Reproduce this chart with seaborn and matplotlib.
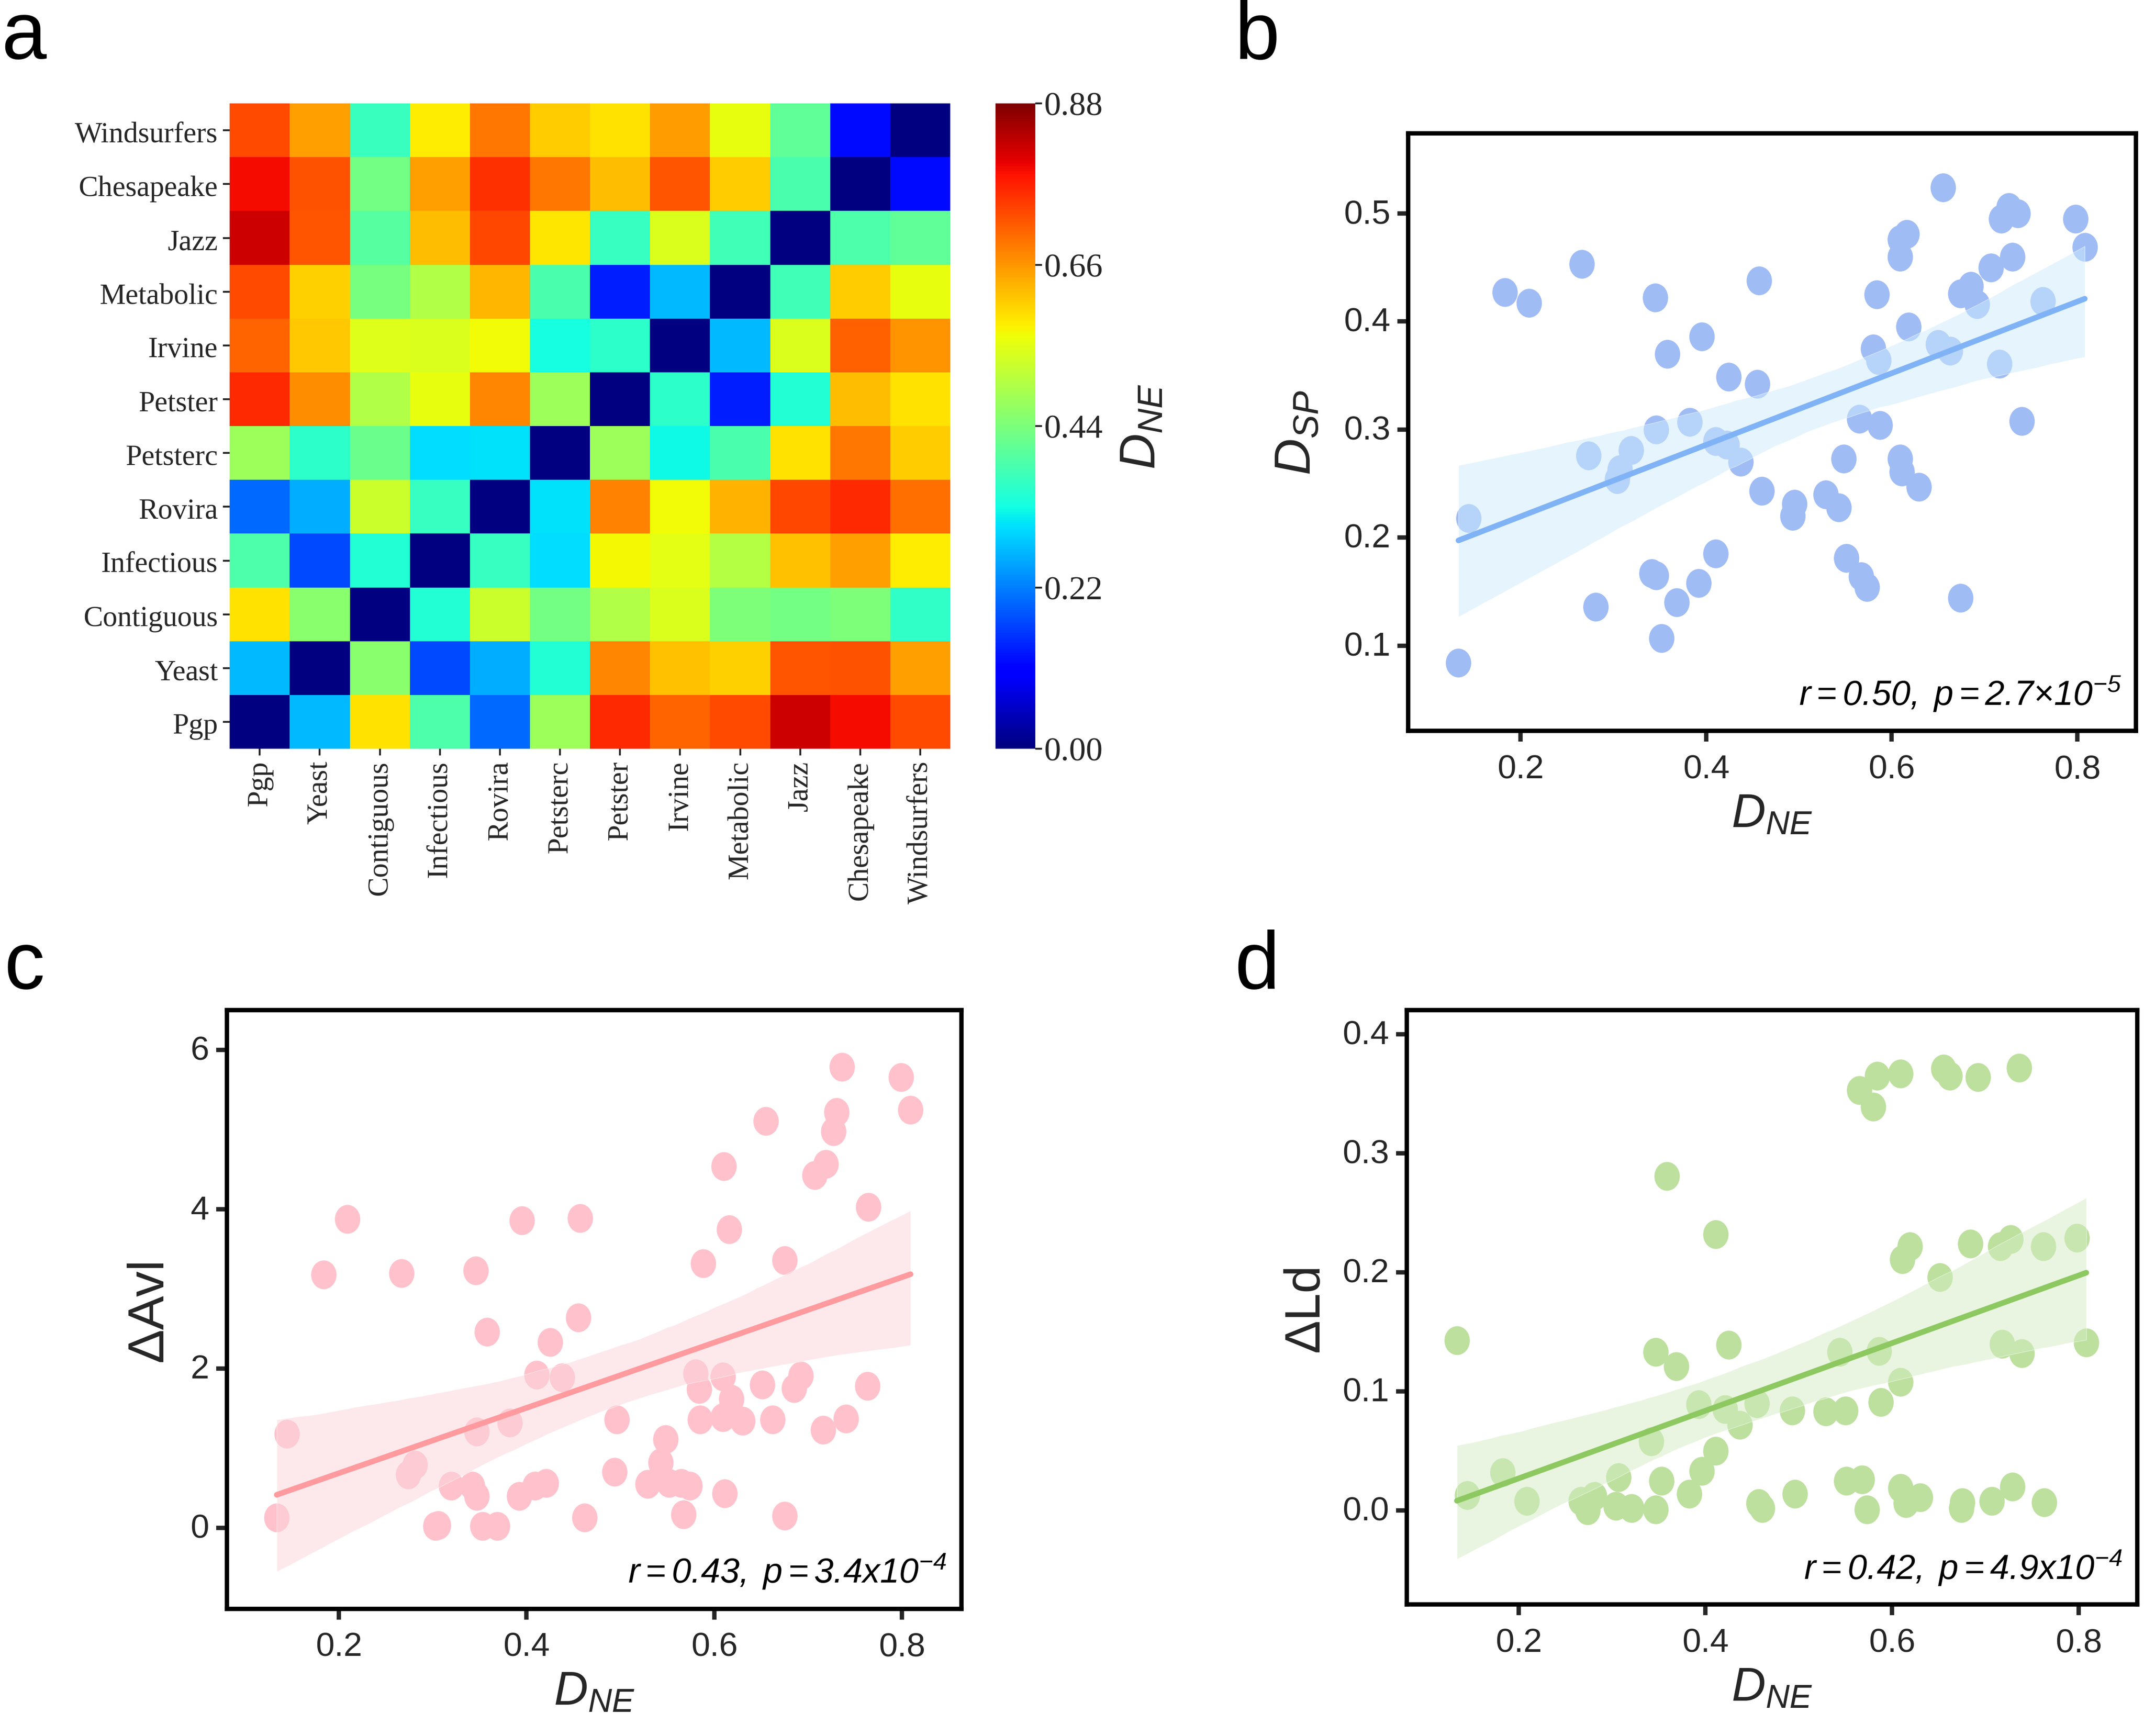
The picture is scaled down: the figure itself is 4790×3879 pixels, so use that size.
##############################################################
# Network distance heatmap and three regression panels
##############################################################

# import packages
import numpy as np
import pandas as pd
import matplotlib
matplotlib.use('Agg')
import matplotlib.pyplot as plt
from matplotlib.path import Path
from matplotlib.transforms import Affine2D, ScaledTranslation
import seaborn as sns

########
# Inputs
########
networks = ['Pgp', 'Yeast', 'Contiguous', 'Infectious', 'Rovira', 'Petsterc',
            'Petster', 'Irvine', 'Metabolic', 'Jazz', 'Chesapeake', 'Windsurfers']

# heatmap rows from top (Windsurfers) to bottom (Pgp)
row_windsurfers = [.73, .65, .37, .58, .69, .61, .59, .655, .555, .41, .12, 0]
row_chesapeake = [.79, .725, .43, .65, .755, .69, .625, .72, .61, .385, 0, .12]
row_jazz = [.82, .72, .40, .625, .735, .585, .365, .54, .375, 0, .39, .41]
row_metabolic = [.73, .605, .435, .495, .63, .385, .135, .27, 0, .375, .61, .555]
row_irvine = [.705, .615, .545, .54, .565, .33, .355, 0, .27, .54, .71, .66]
row_petster = [.76, .67, .495, .555, .675, .475, 0, .355, .135, .345, .625, .59]
row_petsterc = [.475, .355, .42, .30, .305, 0, .475, .325, .385, .59, .69, .61]
row_rovira = [.20, .26, .525, .365, 0, .305, .68, .565, .635, .735, .76, .695]
row_infectious = [.39, .175, .345, 0, .365, .30, .57, .55, .50, .62, .65, .58]
row_contiguous = [.59, .455, 0, .345, .525, .43, .495, .54, .44, .43, .44, .36]
row_yeast = [.27, 0, .455, .175, .26, .345, .675, .62, .605, .72, .725, .65]
row_pgp = [0, .27, .59, .39, .20, .475, .76, .705, .73, .82, .79, .73]

# panel b
x_b = [.133, .144, .183, .209, .266, .281, .273, .319, .307, .304, .341, .346, .345,
       .346, .358, .352, .368, .382, .392, .395, .410, .422, .410, .424, .437, .455,
       .457, .460, .493, .495, .529, .543, .548, .551, .565, .567, .573, .584, .580,
       .586, .587, .609, .609, .616, .618, .609, .611, .629, .650, .655, .663, .674,
       .674, .685, .692, .707, .716, .718, .726, .730, .736, .740, .763, .798, .808]
y_b = [.084, .218, .427, .417, .453, .136, .276, .281, .263, .254, .167, .165, .422,
       .300, .370, .107, .140, .307, .158, .386, .289, .286, .185, .349, .270, .342,
       .438, .243, .220, .231, .240, .228, .273, .181, .310, .164, .154, .425, .375,
       .364, .304, .460, .476, .481, .395, .273, .261, .247, .379, .524, .373, .144,
       .426, .433, .416, .450, .361, .495, .506, .460, .500, .308, .419, .495, .469]

# panel c
x_c = [.134, .145, .184, .209, .267, .281, .274, .303, .306, .320, .342, .347, .347,
       .346, .353, .358, .369, .382, .392, .395, .411, .409, .421, .425, .438, .455,
       .457, .462, .496, .494, .529, .543, .548, .552, .565, .574, .567, .580, .584,
       .585, .588, .609, .610, .609, .611, .618, .616, .630, .651, .655, .662, .675,
       .675, .685, .692, .707, .716, .719, .727, .730, .736, .740, .763, .764, .799, .809]
y_c = [.126, 1.18, 3.18, 3.88, 3.20, .79, .67, .02, .03, .53, .53, 1.21, .40,
       3.23, .02, 2.46, .02, 1.32, .40, 3.86, 1.92, .53, .56, 2.33, 1.89, 2.64,
       3.89, .13, 1.36, .70, .55, .82, 1.11, .56, .56, .53, .17, 1.94, 1.74,
       1.36, 3.32, 1.90, 4.54, 1.39, .43, 1.62, 3.75, 1.34, 1.80, 5.11, 1.36, 3.36,
       .15, 1.75, 1.91, 4.43, 1.23, 4.57, 4.98, 5.22, 5.79, 1.37, 1.78, 4.03, 5.66, 5.25]

# panel d
x_d = [.134, .145, .183, .209, .267, .281, .274, .307, .304, .321, .342, .353, .347,
       .347, .359, .369, .383, .393, .396, .411, .411, .421, .425, .437, .455, .457,
       .461, .493, .496, .529, .550, .544, .551, .568, .573, .565, .580, .584, .586,
       .588, .609, .609, .609, .611, .615, .619, .630, .651, .655, .662, .675, .674,
       .684, .692, .707, .716, .718, .729, .727, .736, .739, .762, .763, .798, .808]
y_d = [.143, .013, .032, .008, .008, .012, .000, .028, .004, .002, .058, .025, .133,
       .001, .281, .121, .014, .089, .033, .232, .050, .085, .139, .072, .090, .006,
       .002, .084, .014, .083, .084, .133, .025, .026, .001, .353, .339, .365, .134,
       .091, .367, .019, .108, .211, .006, .222, .011, .196, .371, .365, .007, .002,
       .224, .364, .008, .222, .140, .020, .228, .372, .132, .222, .007, .229, .141]

xticks_scatter = [0.2, 0.4, 0.6, 0.8]
yticks_b = [0.1, 0.2, 0.3, 0.4, 0.5]
yticks_c = [0, 2, 4, 6]
yticks_d = [0.0, 0.1, 0.2, 0.3, 0.4]
cbar_ticks = [0.00, 0.22, 0.44, 0.66, 0.88]

W, H = 4790, 3880
SCALE = W / 1568  # layout numbers below are in 1568-wide picture pixels

############
# Functions
############
def make_axes(fig, left, top, right, bottom):
    return fig.add_axes([left * SCALE / W, 1 - bottom * SCALE / H,
                         (right - left) * SCALE / W, (bottom - top) * SCALE / H])

# nudge tick labels up or down, in points
def shift_labels(fig, labels, dy):
    for label in labels:
        label.set_transform(label.get_transform() + ScaledTranslation(0, dy / 72, fig.dpi_scale_trans))

# draw one scatter panel with its regression line and band
def plot_panel(fig, ax, x, y, dot, line, band, xlim, ylim, yticks, yfmt, ylabel, label_size, note, label_x):
    marker = Path.unit_circle().transformed(Affine2D().scale(0.88, 1.0))
    sns.regplot(x=np.array(x), y=np.array(y), ax=ax, marker=marker, n_boot=2000, seed=7,
                scatter_kws={'s': 2150, 'color': dot, 'alpha': 1, 'linewidths': 0},
                line_kws={'color': line, 'lw': 9, 'solid_capstyle': 'round'})
    # band has its own tint in the figure
    ax.collections[-1].set_facecolor(band)
    ax.collections[-1].set_alpha(0.5)

    ax.set_xlim(xlim)
    ax.set_ylim(ylim)
    ax.set_xticks(xticks_scatter)
    ax.set_xticklabels([f'{t:.1f}' for t in xticks_scatter])
    ax.set_yticks(yticks)
    ax.set_yticklabels([yfmt.format(t) for t in yticks])
    ax.tick_params(length=17, width=7, labelsize=54, bottom=True, left=True)
    ax.tick_params(axis='x', pad=20)
    ax.tick_params(axis='y', pad=12)
    shift_labels(fig, ax.get_yticklabels(), 4)
    for spine in ax.spines.values():
        spine.set_visible(True)
        spine.set_linewidth(7)
        spine.set_color('black')
    ax.set_xlabel(r'$D_{NE}$', fontsize=76, labelpad=12)
    ax.set_ylabel(ylabel, fontsize=label_size, labelpad=label_x)
    ax.text(0.98, 0.03, note, transform=ax.transAxes, ha='right', va='bottom',
            fontsize=56, color='black')

########
# Run
########
def main():
    sns.set_theme(style='white')
    plt.rcParams['font.family'] = ['Liberation Sans', 'DejaVu Sans']
    plt.rcParams['mathtext.fontset'] = 'custom'
    plt.rcParams['mathtext.rm'] = 'Liberation Sans:italic'
    plt.rcParams['mathtext.it'] = 'Liberation Sans:italic'
    plt.rcParams['mathtext.default'] = 'it'

    fig = plt.figure(figsize=(W / 100, H / 100), facecolor='white')

    # heatmap
    matrix = pd.DataFrame([row_windsurfers, row_chesapeake, row_jazz, row_metabolic,
                           row_irvine, row_petster, row_petsterc, row_rovira,
                           row_infectious, row_contiguous, row_yeast, row_pgp],
                          index=networks[::-1], columns=networks)
    ax_a = make_axes(fig, 168, 76, 695, 548)
    cax = make_axes(fig, 728, 76, 757, 548)
    sns.heatmap(matrix, ax=ax_a, cbar_ax=cax, cmap='jet', vmin=0, vmax=0.88,
                cbar_kws={'ticks': cbar_ticks})
    ax_a.tick_params(length=11, width=3, bottom=True, left=True, pad=8)
    ax_a.set_xticklabels(networks, rotation=90, family='Liberation Serif', fontsize=47)
    ax_a.set_yticklabels(networks[::-1], rotation=0, family='Liberation Serif', fontsize=47)
    shift_labels(fig, ax_a.get_yticklabels(), -7)
    cax.tick_params(length=11, width=3, right=True, pad=3)
    cax.set_yticklabels([f'{t:.2f}' for t in cbar_ticks], family='Liberation Serif', fontsize=54)
    cax.set_ylabel(r'$D_{NE}$', fontsize=80, labelpad=26)

    # panel b
    ax_b = make_axes(fig, 1030, 98, 1562, 535)
    plot_panel(fig, ax_b, x_b, y_b, '#A0BCF5', '#80B3F6', '#CDEBFD',
               (0.079, 0.863), (0.021, 0.574), yticks_b, '{:.1f}', r'$D_{SP}$', 82,
               r'$r=0.50,\;p=2.7{\times}10^{-5}$', 36)

    # panel c
    ax_c = make_axes(fig, 166, 739, 703, 1177)
    plot_panel(fig, ax_c, x_c, y_c, '#FFC2CC', '#FF9A9E', '#FDD5DB',
               (0.081, 0.863), (-1.016, 6.505), yticks_c, '{:d}', 'ΔAvl', 82,
               r'$r=0.43,\;p=3.4x10^{-4}$', 28)

    # panel d
    ax_d = make_axes(fig, 1029, 739, 1563, 1174)
    plot_panel(fig, ax_d, x_d, y_d, '#BDE09E', '#8DC861', '#D4EDC2',
               (0.0805, 0.8625), (-0.079, 0.4205), yticks_d, '{:.1f}', 'ΔLd', 80,
               r'$r=0.42,\;p=4.9x10^{-4}$', 22)

    # panel letters
    for letter, lx, ly in [('a', 1, 43), ('b', 903, 43), ('c', 3, 723), ('d', 903, 723)]:
        fig.text(lx * SCALE / W, 1 - ly * SCALE / H, letter, fontsize=130, color='black',
                 family='Liberation Sans', ha='left', va='baseline')

    fig.savefig('out.png', dpi=100)

if __name__ == "__main__":
    main()
